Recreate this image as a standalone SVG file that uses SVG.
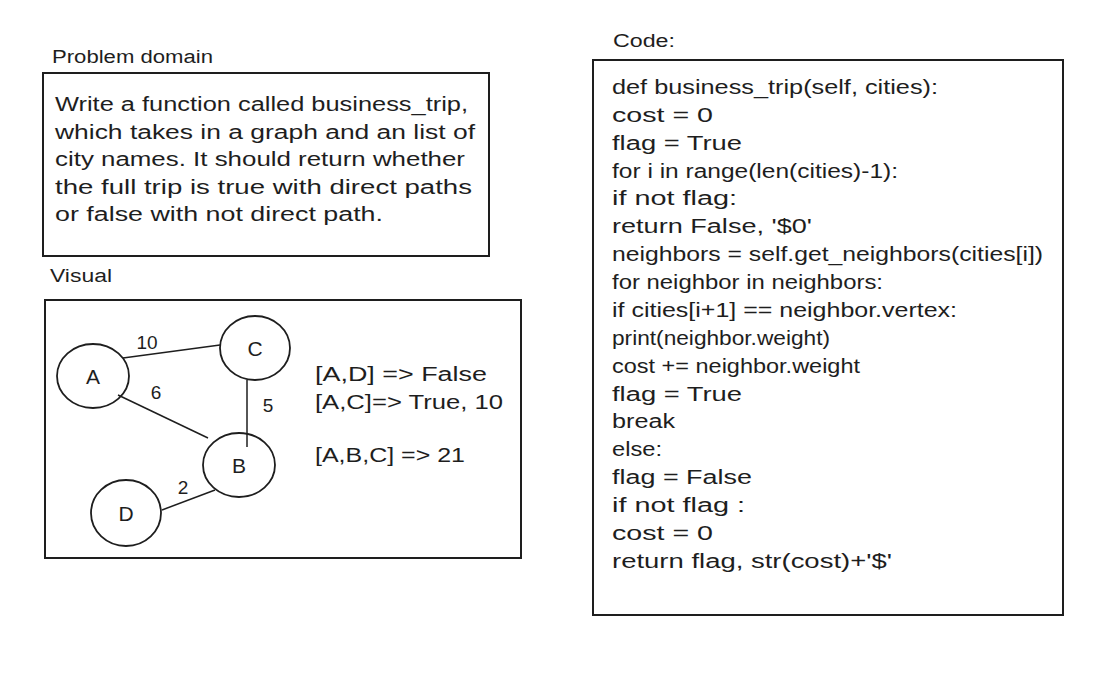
<svg xmlns="http://www.w3.org/2000/svg" width="1103" height="685" viewBox="0 0 1103 685">
<style>
.box{fill:none;stroke:#1e1e1e;stroke-width:2}
.node{fill:none;stroke:#1e1e1e;stroke-width:1.8}
.edge{stroke:#1e1e1e;stroke-width:1.5;fill:none}
text{font-family:"Liberation Sans",Arial,sans-serif;fill:#1e1e1e}
.t{font-size:20px}
.h{font-size:18px}
.lbl{font-size:19px;text-anchor:middle;dominant-baseline:central}
.nl{font-size:21px;text-anchor:middle;dominant-baseline:central}
</style>
<rect width="1103" height="685" fill="#ffffff"/>

<g id="problem-domain">
<text class="h" x="52" y="63" textLength="161" lengthAdjust="spacingAndGlyphs">Problem domain</text>
<rect class="box" x="43" y="73" width="446" height="183"/>
<text class="t" x="55" y="111" textLength="413" lengthAdjust="spacingAndGlyphs">Write a function called business_trip,</text>
<text class="t" x="55" y="138.5" textLength="420" lengthAdjust="spacingAndGlyphs">which takes in a graph and an list of</text>
<text class="t" x="55" y="166" textLength="410" lengthAdjust="spacingAndGlyphs">city names. It should return whether</text>
<text class="t" x="55" y="193.5" textLength="417" lengthAdjust="spacingAndGlyphs">the full trip is true with direct paths</text>
<text class="t" x="55" y="221" textLength="328" lengthAdjust="spacingAndGlyphs">or false with not direct path.</text>
</g>

<g id="visual">
<text class="h" x="50" y="282" textLength="62" lengthAdjust="spacingAndGlyphs">Visual</text>
<rect class="box" x="45" y="300" width="476" height="258"/>
</g>

<g id="connectors">
<line class="edge" x1="123" y1="358" x2="220" y2="345"/>
<line class="edge" x1="118" y1="395" x2="208" y2="438"/>
<line class="edge" x1="247" y1="380" x2="247" y2="447"/>
<line class="edge" x1="162" y1="510" x2="215" y2="490"/>
<text class="lbl" x="147" y="342">10</text>
<text class="lbl" x="156" y="392">6</text>
<text class="lbl" x="268" y="405">5</text>
<text class="lbl" x="183" y="487">2</text>
</g>

<g id="node-A">
<ellipse class="node" cx="93" cy="376" rx="36" ry="32"/>
<text class="nl" x="93" y="376">A</text>
</g>
<g id="node-C">
<ellipse class="node" cx="255" cy="348" rx="35" ry="32"/>
<text class="nl" x="255" y="348">C</text>
</g>
<g id="node-B">
<ellipse class="node" cx="239" cy="465" rx="36" ry="32"/>
<text class="nl" x="239" y="465">B</text>
</g>
<g id="node-D">
<ellipse class="node" cx="126" cy="513" rx="35" ry="33"/>
<text class="nl" x="126" y="513">D</text>
</g>

<g id="results">
<text class="t" x="315" y="381" textLength="172" lengthAdjust="spacingAndGlyphs">[A,D] =&gt; False</text>
<text class="t" x="315" y="409" textLength="188" lengthAdjust="spacingAndGlyphs">[A,C]=&gt; True, 10</text>
<text class="t" x="315" y="462" textLength="150" lengthAdjust="spacingAndGlyphs">[A,B,C] =&gt; 21</text>
</g>

<g id="code">
<text class="h" x="613" y="47" textLength="62" lengthAdjust="spacingAndGlyphs">Code:</text>
<rect class="box" x="593" y="60" width="470" height="555"/>
<text class="t" x="612" y="94" textLength="326" lengthAdjust="spacingAndGlyphs">def business_trip(self, cities):</text>
<text class="t" x="612" y="122" textLength="101" lengthAdjust="spacingAndGlyphs">cost = 0</text>
<text class="t" x="612" y="150" textLength="130" lengthAdjust="spacingAndGlyphs">flag = True</text>
<text class="t" x="612" y="178" textLength="286" lengthAdjust="spacingAndGlyphs">for i in range(len(cities)-1):</text>
<text class="t" x="612" y="205" textLength="125" lengthAdjust="spacingAndGlyphs">if not flag:</text>
<text class="t" x="612" y="233" textLength="200" lengthAdjust="spacingAndGlyphs">return False, '$0'</text>
<text class="t" x="612" y="261" textLength="431" lengthAdjust="spacingAndGlyphs">neighbors = self.get_neighbors(cities[i])</text>
<text class="t" x="612" y="289" textLength="271" lengthAdjust="spacingAndGlyphs">for neighbor in neighbors:</text>
<text class="t" x="612" y="317" textLength="345" lengthAdjust="spacingAndGlyphs">if cities[i+1] == neighbor.vertex:</text>
<text class="t" x="612" y="345" textLength="218" lengthAdjust="spacingAndGlyphs">print(neighbor.weight)</text>
<text class="t" x="612" y="373" textLength="248" lengthAdjust="spacingAndGlyphs">cost += neighbor.weight</text>
<text class="t" x="612" y="401" textLength="130" lengthAdjust="spacingAndGlyphs">flag = True</text>
<text class="t" x="612" y="428" textLength="63" lengthAdjust="spacingAndGlyphs">break</text>
<text class="t" x="612" y="456" textLength="50" lengthAdjust="spacingAndGlyphs">else:</text>
<text class="t" x="612" y="484" textLength="140" lengthAdjust="spacingAndGlyphs">flag = False</text>
<text class="t" x="612" y="512" textLength="133" lengthAdjust="spacingAndGlyphs">if not flag :</text>
<text class="t" x="612" y="540" textLength="101" lengthAdjust="spacingAndGlyphs">cost = 0</text>
<text class="t" x="612" y="568" textLength="280" lengthAdjust="spacingAndGlyphs">return flag, str(cost)+'$'</text>
</g>
</svg>
